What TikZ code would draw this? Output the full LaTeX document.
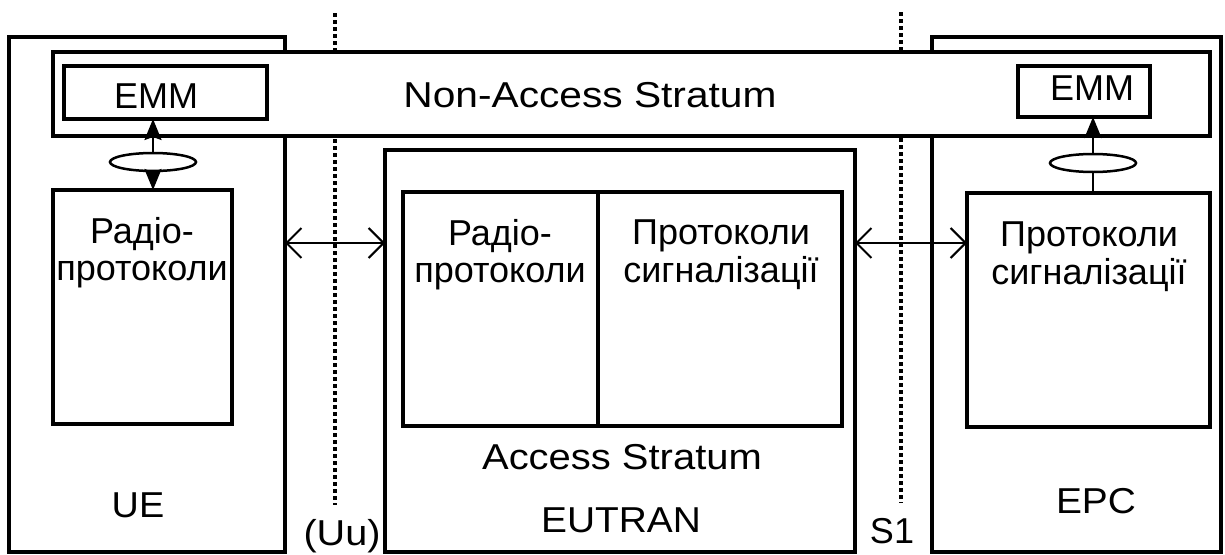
\documentclass[tikz,border=0pt]{standalone}
\usepackage{fontspec}
\setmainfont{Liberation Sans}
\usetikzlibrary{arrows.meta,shapes.geometric}
\begin{document}
\begin{tikzpicture}[x=1pt,y=-1pt,
  box/.style={draw,line width=3.5pt,fill=white,inner sep=0pt,outer sep=0pt},
  lbl/.style={inner sep=0pt,font=\fontsize{36}{37.5}\selectfont,align=center},
  dotline/.style={line width=4pt,dash pattern=on 4pt off 3pt},
  barb/.style={line width=2pt,{Straight Barb[length=15pt,width=30pt]}-{Straight Barb[length=15pt,width=30pt]}},
  link/.style={line width=2.2pt},
  head/.style={-{Stealth[length=21pt,width=17pt,inset=3pt]}},
  ovalnode/.style={ellipse,draw,line width=2.5pt,fill=white,minimum width=86pt,minimum height=18pt,inner sep=0pt}]
\useasboundingbox (0,0) rectangle (1225,554);

% network elements
\node[box,minimum width=276pt,minimum height=515pt] (ue) at (147,294.5) {};
\node[box,minimum width=289pt,minimum height=515pt] (epc) at (1076.5,294.5) {};

% reference points (interfaces)
\coordinate (uuTop) at (335,13);
\coordinate (uuBot) at (335,505);
\coordinate (s1Top) at (901,12);
\coordinate (s1Bot) at (901,503);
\draw[dotline] (uuTop) -- (uuBot);
\draw[dotline] (s1Top) -- (s1Bot);

% EUTRAN with its protocol blocks
\node[box,minimum width=470pt,minimum height=402pt] (eutran) at (620,351) {};
\node[box,minimum width=195pt,minimum height=234pt] (radioEU) at (500.5,309) {};
\node[box,minimum width=244pt,minimum height=234pt] (sigEU) at (720,309) {};

% Non-Access Stratum layer
\node[box,minimum width=1157pt,minimum height=84pt] (nas) at (631.5,94) {};
\node[box,minimum width=203pt,minimum height=53pt] (emmL) at (165.5,92.5) {};
\node[box,minimum width=132pt,minimum height=51pt] (emmR) at (1084,91.5) {};

% protocol blocks of UE and EPC
\node[box,minimum width=179pt,minimum height=234pt] (radioUE) at (142.5,307) {};
\node[box,minimum width=243pt,minimum height=234pt] (sigEPC) at (1088.5,310) {};

% interface arrows
\coordinate (arrY) at (0,243);
\draw[barb] (arrY -| ue.east) -- (arrY -| eutran.west);
\draw[barb] (arrY -| eutran.east) -- (arrY -| sigEPC.west);

% NAS signalling links
\node[ovalnode] (ovL) at (153,162) {};
\node[ovalnode] (ovR) at (1093,163) {};
\draw[link,head] (ovL.north) -- (ovL.north |- emmL.south);
\draw[link,head] (ovL.south) -- (ovL.south |- radioUE.north);
\draw[link,head] (ovR.north) -- (ovR.north |- emmR.south);
\draw[link] (ovR.south) -- (ovR.south |- sigEPC.north);

% labels
\node[lbl,anchor=base] (tNas) at (590,107) {\scalebox{1.13}[1]{Non-Access Stratum}};
\node[lbl,anchor=base] (tEmmL) at (156,108) {EMM};
\node[lbl,anchor=base] (tEmmR) at (1092,100) {EMM};
\node[lbl,anchor=north] (tRadUE) at (142,217) {Радіо-\\протоколи};
\node[lbl,anchor=north] (tRadEU) at (500,219) {Радіо-\\протоколи};
\node[lbl,anchor=north] (tSigEU) at (721,220) {Протоколи\\сигналізації};
\node[lbl,anchor=north] (tSigEPC) at (1089,222) {Протоколи\\сигналізації};
\node[lbl,anchor=base] (tAS) at (622,469) {\scalebox{1.11}[1]{Access Stratum}};
\node[lbl,anchor=base] (tEutran) at (621,532) {\scalebox{1.08}[1]{EUTRAN}};
\node[lbl,anchor=base] (tUE) at (138,517) {\scalebox{1.05}[1]{UE}};
\node[lbl,anchor=base] (tEPC) at (1096,513) {\scalebox{1.08}[1]{EPC}};
\node[lbl,anchor=base] (tUu) at (342,545) {\scalebox{1.1}[1]{(Uu)}};
\node[lbl,anchor=base] (tS1) at (892,543) {S1};
\end{tikzpicture}
\end{document}
